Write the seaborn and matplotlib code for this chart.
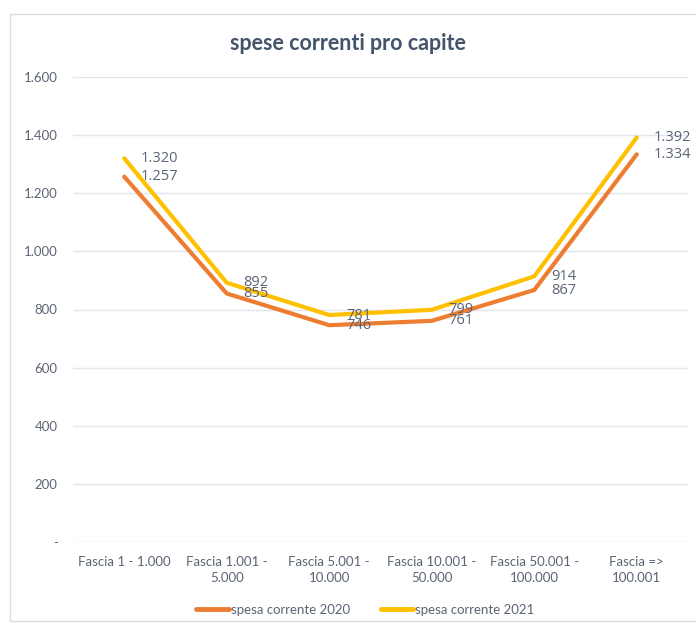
import matplotlib
matplotlib.use("Agg")
import matplotlib.pyplot as plt
from matplotlib.patches import Rectangle
import seaborn as sns
import pandas as pd

# dati
fasce = ["Fascia 1 - 1.000", "Fascia 1.001 -\n5.000", "Fascia 5.001 -\n10.000",
         "Fascia 10.001 -\n50.000", "Fascia 50.001 -\n100.000", "Fascia =>\n100.001"]
spesa_2020 = [1257, 855, 746, 761, 867, 1334]
spesa_2021 = [1320, 892, 781, 799, 914, 1392]
serie = ["spesa corrente 2020", "spesa corrente 2021"]
colori = ["#ED7D31", "#FFC000"]
y_ticks = [0, 200, 400, 600, 800, 1000, 1200, 1400, 1600]
y_labels = ["-", "200", "400", "600", "800", "1.000", "1.200", "1.400", "1.600"]


def fmt(v):
    return f"{v:,}".replace(",", ".")


df = pd.DataFrame({
    "fascia": fasce * 2,
    "valore": spesa_2020 + spesa_2021,
    "serie": [serie[0]] * len(fasce) + [serie[1]] * len(fasce),
})

sns.set_style("white")
plt.rcParams["font.family"] = ["Lato", "DejaVu Sans"]

fig = plt.figure(figsize=(6.96, 6.26), dpi=100)
ax = fig.add_axes([73 / 696, 1 - 542 / 626, 615 / 696, 465 / 626])

sns.lineplot(data=df, x="fascia", y="valore", hue="serie", palette=colori,
             sort=False, linewidth=3, ax=ax, legend=True)

# etichette dati
for vals, col in zip([spesa_2020, spesa_2021], colori):
    for i, v in enumerate(vals):
        ax.annotate(fmt(v), (i, v), xytext=(12, 0), textcoords="offset points",
                    va="center", ha="left", fontsize=10.5, color="#5b6475",
                    family=["Open Sans", "DejaVu Sans"])

ax.set_xlim(-0.5, len(fasce) - 0.5)
ax.set_ylim(0, 1600)
ax.set_yticks(y_ticks)
ax.set_yticklabels(y_labels)
for t in ax.get_xticklabels():
    t.set_linespacing(1.4)
ax.grid(axis="y", color="#e1e5ec", linewidth=1)
ax.set_axisbelow(True)
for s in ax.spines.values():
    s.set_visible(False)
ax.tick_params(axis="both", length=0, labelsize=9.5, colors="#5b6475")
ax.tick_params(axis="y", pad=11)
ax.tick_params(axis="x", pad=10)
ax.set_xlabel("")
ax.set_ylabel("")

fig.text(0.5, 1 - 44 / 626, "spese correnti pro capite", ha="center", va="center",
         fontsize=15.5, fontweight="bold", color="#44546a")

leg = ax.legend(loc="center", bbox_to_anchor=(0.525, 1 - 610 / 626),
                bbox_transform=fig.transFigure, ncol=2, frameon=False,
                fontsize=9.5, handlelength=2.5, columnspacing=2.3, handletextpad=0.15)
for t in leg.get_texts():
    t.set_color("#5b6475")
for h in leg.get_lines():
    h.set_linewidth(3.5)

fig.patches.append(Rectangle((10 / 696, 1 - 621 / 626), 690 / 696, 607 / 626,
                             transform=fig.transFigure, fill=False,
                             edgecolor="#d9dde4", linewidth=1))

fig.savefig("out.png", dpi=100)
